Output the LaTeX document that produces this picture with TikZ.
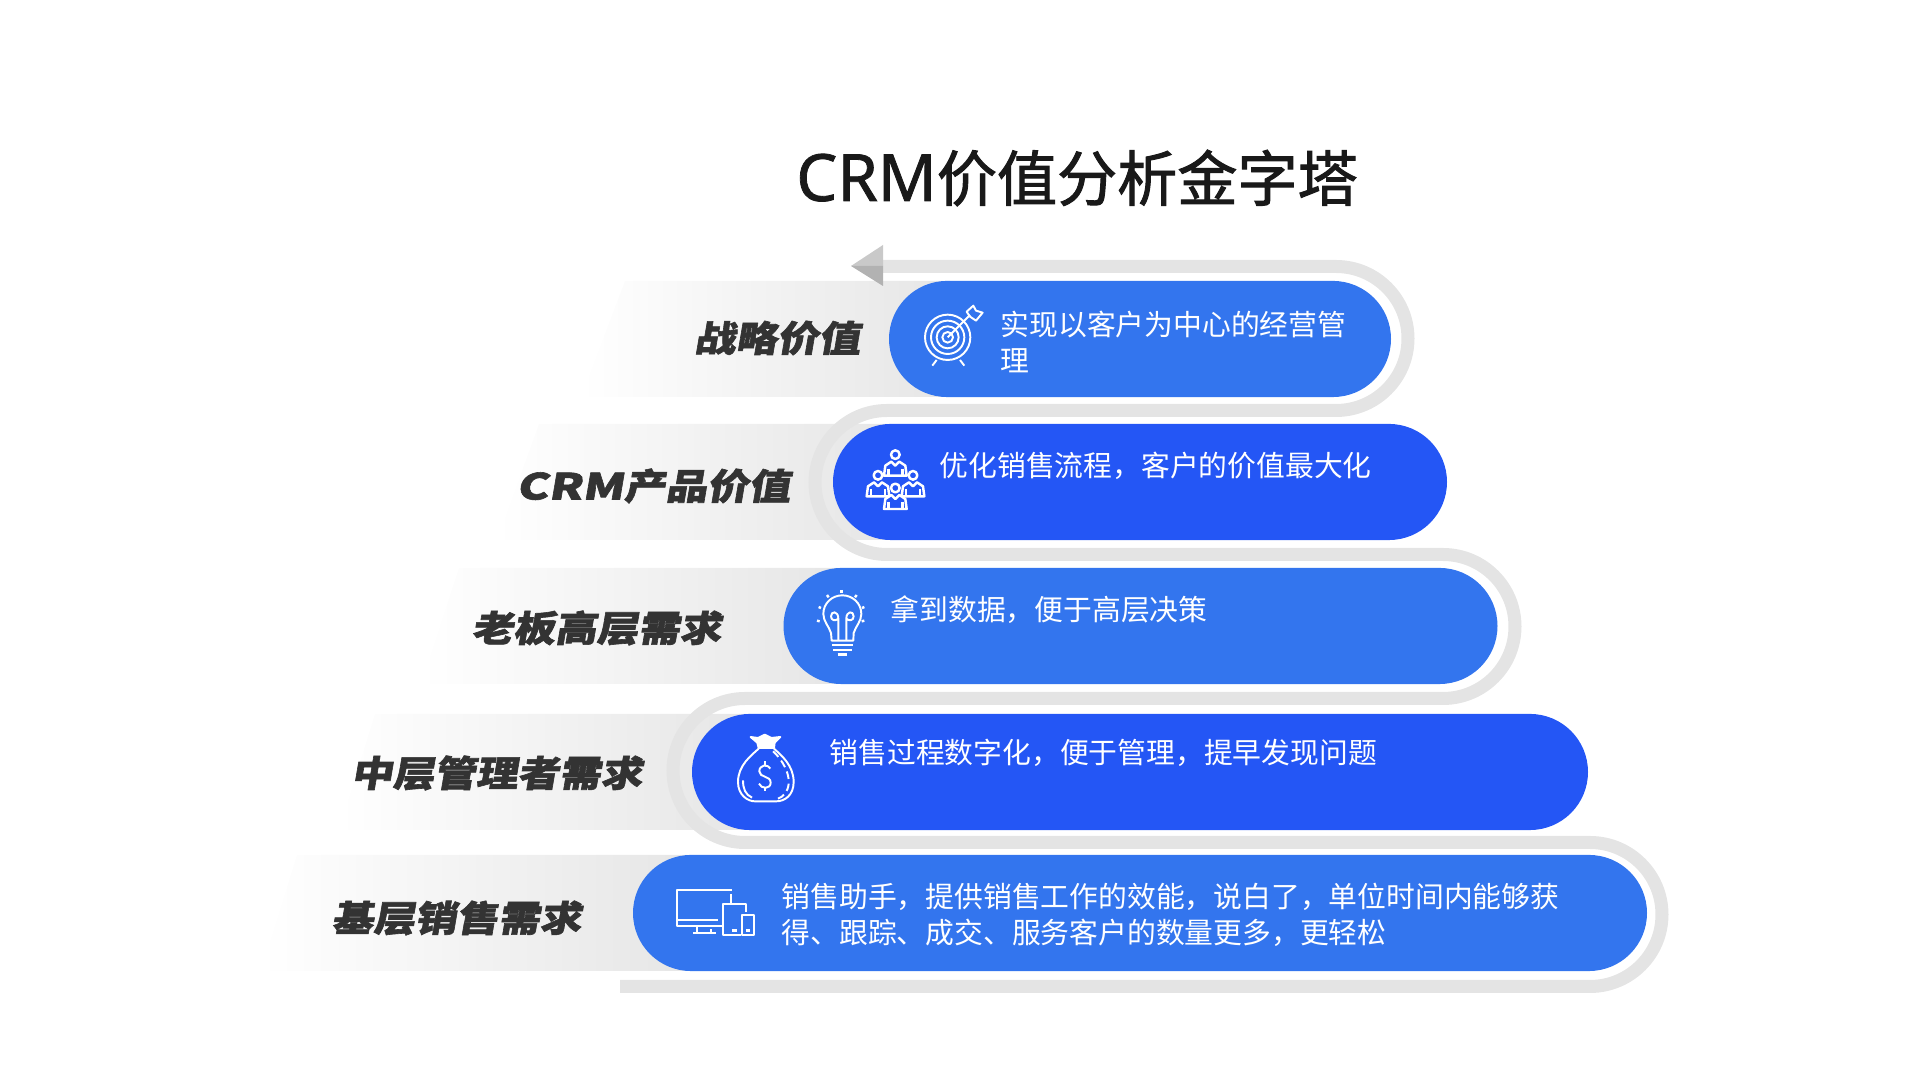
\documentclass[tikz,border=0pt]{standalone}
\usepackage{fontspec}
\usetikzlibrary{shapes.misc}
\setmainfont{Noto Sans CJK SC}
\newfontfamily\titlefont[FakeBold=1.6]{Noto Sans CJK SC}
\newfontfamily\titlelatin[FakeBold=1.2]{Noto Sans}
\newfontfamily\labelfont[BoldFeatures={FakeSlant=.17,FakeStretch=1.16,FakeBold=1.7}]{Noto Sans CJK SC}
\newfontfamily\crmfont[BoldFeatures={FakeSlant=.17,FakeStretch=1.33,FakeBold=1.7}]{Noto Sans CJK SC}
\definecolor{pillblue}{HTML}{3375EE}
\definecolor{pilldeep}{HTML}{2456F5}
\definecolor{ribbongrey}{HTML}{E4E4E4}
\definecolor{bargrey}{HTML}{E6E6E6}
\tikzset{
  pill/.style={rounded rectangle, inner sep=0, minimum height=1.16cm},
  bodytext/.style={anchor=north west, inner sep=0, align=left, text=white, font=\fontsize{8.19}{10.24}\selectfont},
  sidelabel/.style={anchor=east, inner sep=0, text=black!80, font=\labelfont\bfseries\fontsize{10.2}{12}\selectfont},
  iconline/.style={draw=white, line width=.55pt, line join=round},
}
\newcommand{\personicon}[3]{
\draw[iconline, line width=.7pt, fill=#3] (#1-34,#2+63) -- (#1-30,#2+33) -- (#1-12,#2+21) -- (#1,#2+33) -- (#1+12,#2+21) -- (#1+30,#2+33) -- (#1+34,#2+63) -- cycle;
\draw[iconline, line width=.7pt] (#1-21,#2+42) -- (#1-21,#2+63) (#1+21,#2+42) -- (#1+21,#2+63);
\draw[iconline, line width=.7pt, fill=#3] (#1,#2) circle (13);
}
\begin{document}
\begin{tikzpicture}[x=.01cm, y=-.01cm]
\useasboundingbox (0,0) rectangle (1920,1080);

\node[anchor=center, inner sep=0, text=black!90, font=\titlefont\fontsize{17.1}{20}\selectfont] (title) at (1077,178) {{\titlelatin\fontsize{18.5}{20}\selectfont CRM}价值分析金字塔};

% grey bars behind the pills
\foreach \xt/\xb/\xr/\yt/\yb in {625/581/950/281/397, 539/497/890/424/540, 459/421/840/568/684, 375/339/750/714/830, 297/261/690/855/971}
  \shade[left color=white, middle color=black!6.5, right color=bargrey] (\xt,\yt) -- (\xr,\yt) -- (\xr,\yb) -- (\xb,\yb) -- cycle;

% ribbon running down the stack
\draw[ribbongrey, line width=.13cm] (883,266.5) -- (1336,266.5) arc[start angle=-90, end angle=90, radius=72]
  -- (887,410.5) arc[start angle=-90, end angle=-270, radius=72]
  -- (1443,554.5) arc[start angle=-90, end angle=90, radius=72]
  -- (745,698.5) arc[start angle=-90, end angle=-270, radius=72]
  -- (1590,842.5) arc[start angle=-90, end angle=90, radius=72]
  -- (620,986.5);
\fill[black!21] (851,266) -- (883,245) -- (883,266) -- cycle;
\fill[black!30] (851,266) -- (883,286) -- (883,266) -- cycle;

\foreach \n/\xc/\yc/\w/\col in {1/1140/339/502/pillblue, 2/1140/482/614/pilldeep, 3/1140.5/626/714/pillblue, 4/1140/772/896/pilldeep, 5/1140/913/1014/pillblue}
  \node[pill, fill=\col, minimum width=\w*.01cm] (pill\n) at (\xc,\yc) {};

\foreach \n/\x/\y/\t in {1/861/338/战略价值, 2/791/486/{{\crmfont\bfseries CRM}产品价值}, 3/722/628/老板高层需求, 4/643/773/中层管理者需求, 5/582/918/基层销售需求}
  \node[sidelabel] (label\n) at (\x,\y) {\t};

\foreach \n/\x/\y/\t in {1/1000/310.5/{实现以客户为中心的经营管\\理}, 2/939/451.5/{优化销售流程，客户的价值最大化}, 3/890/595.5/{拿到数据，便于高层决策}, 4/829/738.5/{销售过程数字化，便于管理，提早发现问题}, 5/781/882.5/{销售助手，提供销售工作的效能，说白了，单位时间内能够获\\得、跟踪、成交、服务客户的数量更多，更轻松}}
  \node[bodytext] (text\n) at (\x,\y) {\t};

% target
\begin{scope}[shift={(915,300)}, scale=.3333]
\foreach \r in {68,50,33,16} \draw[iconline] (98,112) circle (\r);
\draw[iconline] (65,180) -- (52,197) (135,180) -- (148,197);
\draw[iconline] (98,112) -- (165,45);
\draw[iconline] (165,50) -- (155,35) -- (175,17) -- (183,32) -- (203,38) -- (183,62) -- cycle;
\end{scope}

% people
\begin{scope}[shift={(858,443)}, scale=.3333]
\personicon{112}{35}{pilldeep}
\personicon{60}{97}{pilldeep}
\personicon{165}{97}{pilldeep}
\personicon{112}{135}{pilldeep}
\end{scope}

% bulb
\begin{scope}[shift={(805,588)}, scale=.3333]
\draw[iconline] (80,158) -- (78,135) .. controls (72,115) and (55,100) .. (55,78) .. controls (55,45) and (82,22) .. (112,22) .. controls (142,22) and (169,45) .. (169,78) .. controls (169,100) and (152,115) .. (146,135) -- (145,158) -- cycle;
\draw[iconline] (100,158) -- (100,92) .. controls (100,68) and (78,68) .. (78,85) .. controls (78,98) and (92,100) .. (100,92);
\draw[iconline] (124,158) -- (124,92) .. controls (124,68) and (146,68) .. (146,85) .. controls (146,98) and (132,100) .. (124,92);
\draw[iconline] (82,172) -- (143,172) (85,185) -- (140,185);
\draw[iconline, line width=.8pt] (98,199) -- (125,199);
\foreach \x/\y/\xx/\yy in {110/6/110/15, 66/21/71/28, 155/21/150/28, 41/57/48/60, 178/57/171/60, 36/98/44/100, 178/98/170/100}
  \draw[iconline, line width=.7pt] (\x,\y) -- (\xx,\yy);
\end{scope}

% money bag
\begin{scope}[shift={(728,732)}, scale=.3333]
\draw[iconline] (92,50) .. controls (70,70) and (30,100) .. (30,150) .. controls (30,190) and (60,208) .. (80,208) -- (145,208) .. controls (170,208) and (197,190) .. (197,150) .. controls (197,100) and (160,70) .. (138,50);
\draw[iconline, fill=white] (92,48) -- (88,32) -- (68,15) -- (90,18) -- (110,8) -- (130,18) -- (157,15) -- (140,32) -- (138,48) -- cycle;
\draw[iconline] (127,110) .. controls (120,95) and (94,98) .. (94,118) .. controls (94,138) and (128,130) .. (128,152) .. controls (128,172) and (100,172) .. (93,155);
\draw[iconline] (110,88) -- (110,99) (110,167) -- (110,178);
\draw[iconline] (45,145) .. controls (45,170) and (52,188) .. (72,197);
\draw[iconline, dash pattern=on 2.2pt off 1.3pt] (135,58) .. controls (165,85) and (185,125) .. (182,155) .. controls (180,180) and (165,195) .. (150,200);
\end{scope}

% screens
\begin{scope}[shift={(670,880)}, scale=.3333, line cap=butt]
\draw[iconline, line width=.6pt] (185,30) -- (22,30) -- (22,138) -- (156,138) (22,120) -- (143,120) (183,42) -- (183,72);
\draw[iconline, line width=.6pt] (82,140) -- (82,159) (124,148) -- (124,159) (70,160) -- (138,160);
\draw[iconline, line width=.6pt] (214,165) -- (158,165) -- (158,72) -- (228,72) -- (228,95);
\draw[iconline, line width=.6pt] (216,106) rectangle (252,165);
\draw[iconline, line width=1pt] (186,151) -- (202,151) (228,152) -- (240,152);
\end{scope}
\end{tikzpicture}
\end{document}
